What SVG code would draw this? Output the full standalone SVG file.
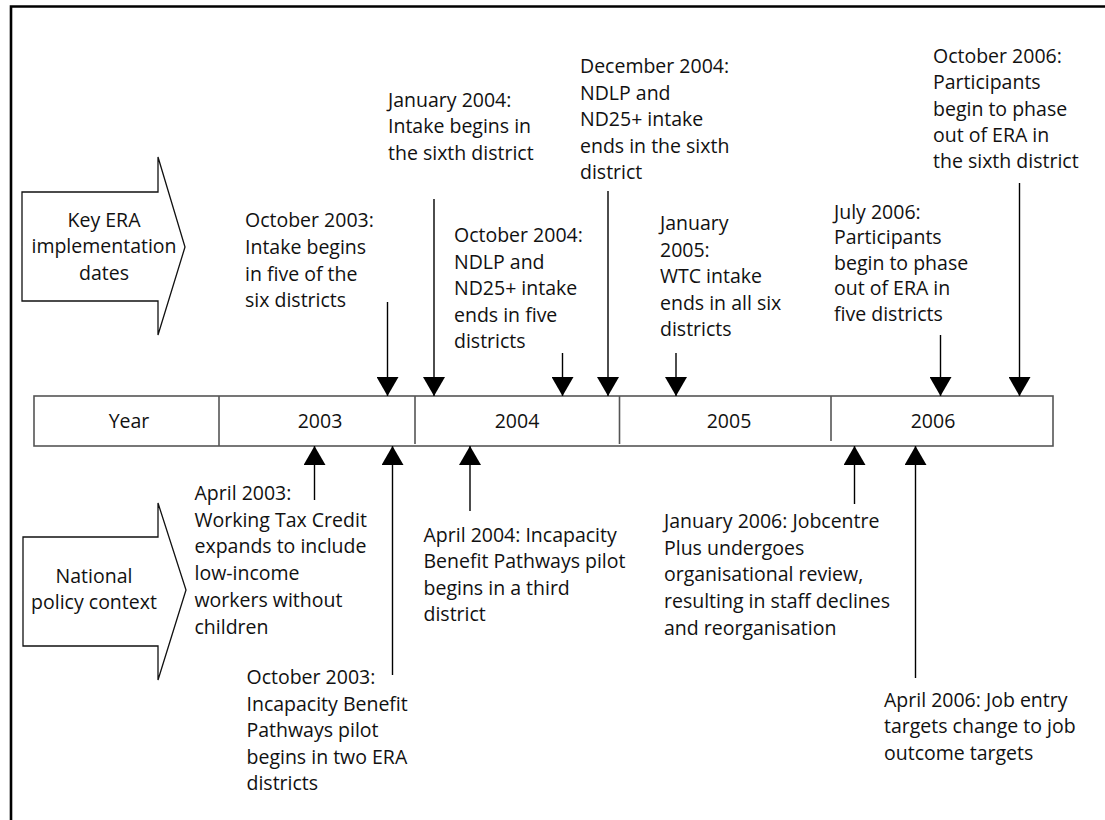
<svg xmlns="http://www.w3.org/2000/svg" width="1105" height="820" viewBox="0 0 1105 820">
<style>
text{font-family:"Open Sans","Noto Sans","Liberation Sans",sans-serif;font-size:19.5px;fill:#111}
.mid{text-anchor:middle}
.bar{fill:#fff;stroke:#555;stroke-width:1.6}
.div{stroke:#555;stroke-width:1.6}
.shape{fill:#fff;stroke:#111;stroke-width:1.3}
.conn{stroke:#000;stroke-width:1.4;fill:none;marker-end:url(#ah)}
</style>
<defs>
<marker id="ah" viewBox="0 0 19 22" refX="19" refY="11" markerWidth="19" markerHeight="22" markerUnits="userSpaceOnUse" orient="auto">
<path d="M0,0 L19,11 L0,22 Z" fill="#000"/>
</marker>
</defs>
<rect width="1105" height="820" fill="#fff"/>
<polyline points="11,820 11,6.5 1105,6.5" fill="none" stroke="#000" stroke-width="2.6"/>

<g id="key-era">
<polygon class="shape" points="22,192 158,192 158,157 185,247 158,335 158,301 22,301"/>
<text class="mid" x="104" y="227">Key ERA</text>
<text class="mid" x="104" y="253">implementation</text>
<text class="mid" x="104" y="280">dates</text>
</g>

<g id="national-policy">
<polygon class="shape" points="23,537 158,537 158,503 186,590 158,680 158,646 23,646"/>
<text class="mid" x="94" y="583">National</text>
<text class="mid" x="94" y="609">policy context</text>
</g>

<g id="year-bar">
<rect class="bar" x="34" y="396" width="1019" height="50"/>
<line class="div" x1="219" y1="396" x2="219" y2="446"/>
<line class="div" x1="415" y1="396" x2="415" y2="444"/>
<line class="div" x1="619.5" y1="396" x2="619.5" y2="444"/>
<line class="div" x1="831" y1="396" x2="831" y2="441"/>
<text class="mid" x="129" y="428">Year</text>
<text class="mid" x="320" y="428">2003</text>
<text class="mid" x="517" y="428">2004</text>
<text class="mid" x="729" y="428">2005</text>
<text class="mid" x="933" y="428">2006</text>
</g>

<g id="connectors">
<line class="conn" x1="387.5" y1="302" x2="387.5" y2="396"/>
<line class="conn" x1="434" y1="199" x2="434" y2="396"/>
<line class="conn" x1="562.5" y1="353" x2="562.5" y2="396"/>
<line class="conn" x1="608" y1="191" x2="608" y2="396"/>
<line class="conn" x1="676" y1="353" x2="676" y2="396"/>
<line class="conn" x1="940.5" y1="335" x2="940.5" y2="396"/>
<line class="conn" x1="1019.5" y1="183" x2="1019.5" y2="396"/>
<line class="conn" x1="314.5" y1="500" x2="314.5" y2="446"/>
<line class="conn" x1="392.5" y1="675" x2="392.5" y2="446"/>
<line class="conn" x1="470" y1="511" x2="470" y2="446"/>
<line class="conn" x1="854.5" y1="504" x2="854.5" y2="446"/>
<line class="conn" x1="915.5" y1="678" x2="915.5" y2="446"/>
</g>

<g id="oct-2003-intake">
<text x="245" y="227">October 2003:</text>
<text x="245" y="254">Intake begins</text>
<text x="245" y="281">in five of the</text>
<text x="245" y="307">six districts</text>
</g>

<g id="jan-2004-intake">
<text x="388" y="107">January 2004:</text>
<text x="388" y="133">Intake begins in</text>
<text x="388" y="160">the sixth district</text>
</g>

<g id="dec-2004-ends">
<text x="580" y="73">December 2004:</text>
<text x="580" y="99.5">NDLP and</text>
<text x="580" y="126">ND25+ intake</text>
<text x="580" y="152.5">ends in the sixth</text>
<text x="580" y="179">district</text>
</g>

<g id="oct-2004-ends">
<text x="454" y="242">October 2004:</text>
<text x="454" y="268.5">NDLP and</text>
<text x="454" y="295">ND25+ intake</text>
<text x="454" y="321.5">ends in five</text>
<text x="454" y="348">districts</text>
</g>

<g id="jan-2005-wtc">
<text x="660" y="230">January</text>
<text x="660" y="256.5">2005:</text>
<text x="660" y="283">WTC intake</text>
<text x="660" y="309.5">ends in all six</text>
<text x="660" y="336">districts</text>
</g>

<g id="jul-2006-phase">
<text x="834" y="218.5">July 2006:</text>
<text x="834" y="244">Participants</text>
<text x="834" y="269.5">begin to phase</text>
<text x="834" y="295">out of ERA in</text>
<text x="834" y="320.5">five districts</text>
</g>

<g id="oct-2006-phase">
<text x="933" y="62.5">October 2006:</text>
<text x="933" y="89">Participants</text>
<text x="933" y="115.5">begin to phase</text>
<text x="933" y="142">out of ERA in</text>
<text x="933" y="167.5">the sixth district</text>
</g>

<g id="apr-2003-wtc">
<text x="194.5" y="500">April 2003:</text>
<text x="194.5" y="526.5">Working Tax Credit</text>
<text x="194.5" y="553">expands to include</text>
<text x="194.5" y="580">low-income</text>
<text x="194.5" y="607">workers without</text>
<text x="194.5" y="633.5">children</text>
</g>

<g id="oct-2003-ib">
<text x="246.5" y="684">October 2003:</text>
<text x="246.5" y="710.5">Incapacity Benefit</text>
<text x="246.5" y="737">Pathways pilot</text>
<text x="246.5" y="764">begins in two ERA</text>
<text x="246.5" y="790">districts</text>
</g>

<g id="apr-2004-ib">
<text x="423.5" y="541.5">April 2004: Incapacity</text>
<text x="423.5" y="568">Benefit Pathways pilot</text>
<text x="423.5" y="595">begins in a third</text>
<text x="423.5" y="621">district</text>
</g>

<g id="jan-2006-jcp">
<text x="664" y="528">January 2006: Jobcentre</text>
<text x="664" y="554.5">Plus undergoes</text>
<text x="664" y="581">organisational review,</text>
<text x="664" y="608">resulting in staff declines</text>
<text x="664" y="634.5">and reorganisation</text>
</g>

<g id="apr-2006-targets">
<text x="884" y="706.5">April 2006: Job entry</text>
<text x="884" y="733">targets change to job</text>
<text x="884" y="759.5">outcome targets</text>
</g>
</svg>
